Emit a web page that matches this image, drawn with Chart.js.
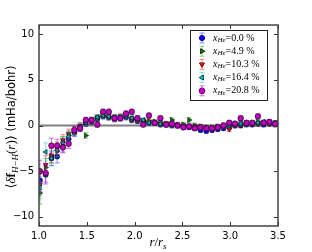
<!DOCTYPE html>
<html>
<head>
<meta charset="utf-8">
<script src="https://cdn.jsdelivr.net/npm/chart.js@4/dist/chart.umd.min.js"></script>
<style>
  html, body { margin: 0; padding: 0; background: #fff; }
  #wrap { width: 312px; height: 252px; }
</style>
</head>
<body>
<div id="wrap"><canvas id="forceChart" width="312" height="252"></canvas></div>
<script>
// r / r_s grid shared by all series
const rValues = [1.01, 1.07, 1.13, 1.19, 1.25, 1.31, 1.37, 1.43, 1.49, 1.55, 1.61, 1.67, 1.73, 1.79,
    1.85, 1.91, 1.97, 2.03, 2.09, 2.15, 2.21, 2.27, 2.33, 2.39, 2.45, 2.51, 2.57, 2.63,
    2.69, 2.75, 2.81, 2.87, 2.93, 2.99, 3.05, 3.11, 3.17, 3.23, 3.29, 3.35, 3.41, 3.47];

// <delta f_H-H(r)> in mHa/bohr, one list per helium fraction
const force0 = [-6.0, -5.4, -3.6, -3.4, -2.3, -1.5, -0.8, -0.3, 0.2, 0.4, 0.7, 1.0, 0.9, 0.7,
    0.8, 0.9, 0.6, 0.5, 0.4, 0.3, 0.3, 0.1, 0.1, 0.0, 0.0, -0.1, -0.2, -0.3,
    -0.5, -0.6, -0.5, -0.4, -0.3, -0.2, 0.0, 0.0, 0.1, 0.1, 0.2, 0.1, 0.2, 0.1];
const force49 = [-7.4, -4.6, -3.3, -2.8, -1.8, -1.1, -0.7, -0.2, -1.1, 0.5, 0.8, 1.1, 1.0, 0.9,
    0.9, 1.1, 0.7, 0.6, 0.5, 0.5, 0.4, 0.3, 0.2, 0.6, 0.1, 0.1, 0.6, 0.0,
    -0.1, -0.2, -0.2, -0.1, 0.0, 0.1, 0.1, 0.2, 0.3, 0.2, 0.4, 0.3, 0.3, 0.3];
const force103 = [-6.5, -4.3, -3.3, -2.5, -1.6, -0.9, -0.5, 0.0, 0.3, 0.5, 0.9, 1.2, 0.9, 0.8,
    1.0, 1.1, 0.7, 0.6, 0.5, 0.4, 0.3, 0.2, 0.2, 0.1, 0.0, 0.0, -0.1, -0.1,
    -0.2, -0.3, -0.3, -0.2, -0.1, -0.4, 0.0, 0.1, 0.2, 0.2, 0.2, 0.3, 0.2, 0.2];
const force164 = [-6.8, -2.9, -3.6, -2.7, -1.9, -1.2, -0.6, -0.1, 0.3, 0.6, 0.9, 1.1, 1.0, 0.9,
    0.9, 1.0, 0.8, 0.7, 0.6, 0.3, 0.3, 0.2, 0.1, 0.0, 0.0, -0.1, -0.1, -0.2,
    -0.2, -0.3, -0.3, -0.2, -0.1, 0.0, 0.1, 0.2, 0.2, 0.3, 0.3, 0.4, 0.3, 0.3];
const force208 = [-5.0, -5.2, -2.2, -2.2, -2.4, -2.0, -0.5, -0.3, 0.6, 0.6, 0.1, 1.5, 1.5, 0.8,
    0.8, 1.3, 1.5, 0.8, 0.1, 1.1, 0.3, 0.8, 0.1, 0.2, 0.0, -0.2, -0.1, -0.3,
    -0.2, -0.3, -0.3, -0.2, 0.0, 0.3, 0.2, 0.8, 0.3, 0.3, 1.0, 0.3, 0.4, 0.2];

// error bar half-widths
const errValues = [1.2, 1.0, 0.8, 0.7, 0.6, 0.5, 0.4, 0.35, 0.3, 0.3, 0.3, 0.3, 0.3, 0.3,
    0.3, 0.3, 0.3, 0.3, 0.25, 0.25, 0.25, 0.25, 0.25, 0.25, 0.25, 0.25, 0.25, 0.25,
    0.25, 0.25, 0.25, 0.25, 0.25, 0.25, 0.25, 0.25, 0.25, 0.25, 0.25, 0.25, 0.25, 0.25];

const heFractions = ['0.0', '4.9', '10.3', '16.4', '20.8'];
const xTicks = [1.0, 1.5, 2.0, 2.5, 3.0, 3.5];
const yTicks = [-10, -5, 0, 5, 10];

const seriesValues = [force0, force49, force103, force164, force208];
const colors = ['#0000ff', '#007f00', '#ff0000', '#00bfbf', '#bf00bf'];
const errColors = ['rgba(0,0,255,0.45)', 'rgba(0,127,0,0.45)', 'rgba(255,0,0,0.45)', 'rgba(0,191,191,0.45)', 'rgba(191,0,191,0.55)'];
const pointStyles = ['circle', 'triangle', 'triangle', 'triangle', 'circle'];
const rotations = [0, 90, 180, 270, 0];
const radii = [2.5, 2.8, 2.8, 2.8, 2.8];

const datasets = seriesValues.map((vals, k) => ({
    label: heFractions[k],
    data: rValues.map((r, i) => ({ x: r, y: vals[i] })),
    errs: errValues,
    errColor: errColors[k],
    backgroundColor: colors[k],
    borderColor: '#000',
    borderWidth: 0.6,
    pointStyle: pointStyles[k],
    rotation: rotations[k],
    pointRadius: radii[k],
    pointHoverRadius: radii[k],
    showLine: false,
    order: 5 - k,
}));

function richWidth(ctx, parts) {
    let w = 0;
    parts.forEach(p => { ctx.font = p.f; w += ctx.measureText(p.t).width; });
    return w;
}

function drawRich(ctx, parts, x, y) {
    let cx = x;
    parts.forEach(p => {
        ctx.font = p.f;
        ctx.fillText(p.t, cx, y + (p.dy || 0));
        cx += ctx.measureText(p.t).width;
    });
}

const errorBars = {
    id: 'errorBars',
    beforeDatasetsDraw(chart) {
        const { ctx, chartArea: a, scales: { y } } = chart;
        const y0 = y.getPixelForValue(0);
        ctx.save();
        ctx.strokeStyle = '#808080';
        ctx.lineWidth = 2;
        ctx.beginPath();
        ctx.moveTo(a.left, y0);
        ctx.lineTo(a.right, y0);
        ctx.stroke();
        ctx.restore();
    },
    beforeDatasetDraw(chart, args) {
        const ds = chart.data.datasets[args.index];
        const { ctx, chartArea: a, scales: { x, y } } = chart;
        ctx.save();
        ctx.beginPath();
        ctx.rect(a.left, a.top, a.right - a.left, a.bottom - a.top);
        ctx.clip();
        ctx.strokeStyle = ds.errColor;
        ctx.lineWidth = 1;
        ds.data.forEach((p, i) => {
            const px = x.getPixelForValue(p.x);
            const top = y.getPixelForValue(p.y + ds.errs[i]);
            const bot = y.getPixelForValue(p.y - ds.errs[i]);
            ctx.beginPath();
            ctx.moveTo(px, top);
            ctx.lineTo(px, bot);
            ctx.moveTo(px - 2.5, top);
            ctx.lineTo(px + 2.5, top);
            ctx.moveTo(px - 2.5, bot);
            ctx.lineTo(px + 2.5, bot);
            ctx.stroke();
        });
        ctx.restore();
    },
};

const frameAndLabels = {
    id: 'frameAndLabels',
    afterDraw(chart) {
        const { ctx, chartArea: a, scales: { x, y } } = chart;
        ctx.save();
        // inward ticks on all four sides
        ctx.strokeStyle = '#333';
        ctx.lineWidth = 1;
        ctx.beginPath();
        xTicks.forEach(v => {
            const px = Math.round(x.getPixelForValue(v)) + 0.5;
            ctx.moveTo(px, a.bottom); ctx.lineTo(px, a.bottom - 4);
            ctx.moveTo(px, a.top); ctx.lineTo(px, a.top + 4);
        });
        yTicks.forEach(v => {
            const py = Math.round(y.getPixelForValue(v)) + 0.5;
            ctx.moveTo(a.left, py); ctx.lineTo(a.left + 4, py);
            ctx.moveTo(a.right, py); ctx.lineTo(a.right - 4, py);
        });
        ctx.stroke();
        // frame
        ctx.strokeStyle = '#444';
        ctx.lineWidth = 1.5;
        ctx.strokeRect(a.left, a.top, a.right - a.left, a.bottom - a.top);

        // legend
        const lx = 190.5, ly = 30.5, lw = 77, lh = 70;
        ctx.fillStyle = '#fff';
        ctx.fillRect(lx, ly, lw, lh);
        ctx.strokeStyle = '#222';
        ctx.lineWidth = 1;
        ctx.strokeRect(lx, ly, lw, lh);
        heFractions.forEach((f, k) => {
            const my = 38 + k * 13.2;
            const mx = 202;
            ctx.strokeStyle = errColors[k];
            ctx.beginPath();
            ctx.moveTo(mx, my - 5); ctx.lineTo(mx, my + 5);
            ctx.moveTo(mx - 2.5, my - 5); ctx.lineTo(mx + 2.5, my - 5);
            ctx.moveTo(mx - 2.5, my + 5); ctx.lineTo(mx + 2.5, my + 5);
            ctx.stroke();
            ctx.fillStyle = colors[k];
            ctx.strokeStyle = '#000';
            Chart.helpers.drawPoint(ctx, {
                pointStyle: pointStyles[k], rotation: rotations[k],
                radius: radii[k], borderWidth: 0.6,
            }, mx, my);
            ctx.fill();
            ctx.fillStyle = '#000';
            ctx.textBaseline = 'middle';
            ctx.textAlign = 'left';
            drawRich(ctx, [
                { t: 'x', f: 'italic 10px "Liberation Serif"' },
                { t: 'He', f: 'italic 7px "Liberation Serif"', dy: 2 },
                { t: '=' + f + ' %', f: '10px "Liberation Serif"' },
            ], 213, my);
        });

        // x axis title
        ctx.fillStyle = '#000';
        ctx.textBaseline = 'alphabetic';
        const xt = [
            { t: 'r', f: 'italic 13px "Liberation Serif"' },
            { t: '/', f: '13px "Liberation Serif"' },
            { t: 'r', f: 'italic 13px "Liberation Serif"' },
            { t: 's', f: 'italic 9px "Liberation Serif"', dy: 2.5 },
        ];
        drawRich(ctx, xt, 158 - richWidth(ctx, xt) / 2, 246);

        // y axis title
        const yt = [
            { t: '\u27e8', f: '13px "DejaVu Sans"' },
            { t: '\u03b4', f: 'italic 13px "Liberation Serif"' },
            { t: 'f', f: 'bold 13px "Liberation Serif"' },
            { t: 'H\u2212H', f: 'italic 9px "Liberation Serif"', dy: 3 },
            { t: '(', f: '13px "Liberation Serif"' },
            { t: 'r', f: 'italic 13px "Liberation Serif"' },
            { t: ')', f: '13px "Liberation Serif"' },
            { t: '\u27e9', f: '13px "DejaVu Sans"' },
            { t: ' (mHa/bohr)', f: '11.5px "DejaVu Sans"' },
        ];
        ctx.translate(15, 127);
        ctx.rotate(-Math.PI / 2);
        drawRich(ctx, yt, -richWidth(ctx, yt) / 2, 0);
        ctx.restore();
    },
};

const canvas = document.getElementById('forceChart');

new Chart(canvas, {
    type: 'scatter',
    data: { datasets },
    options: {
        responsive: false,
        animation: false,
        devicePixelRatio: 1,
        layout: { padding: { top: 25, right: 34, left: 0, bottom: 0 } },
        plugins: {
            legend: { display: false },
            tooltip: { enabled: false },
        },
        scales: {
            x: {
                type: 'linear',
                min: 1.0,
                max: 3.5,
                afterBuildTicks: axis => { axis.ticks = xTicks.map(v => ({ value: v })); },
                afterFit: axis => { axis.height = 26; },
                grid: { display: false, drawTicks: false },
                border: { display: false },
                ticks: {
                    padding: 4,
                    color: '#000',
                    font: { family: 'DejaVu Sans', size: 10 },
                    callback: v => Number(v).toFixed(1),
                },
            },
            y: {
                type: 'linear',
                min: -11,
                max: 11,
                afterBuildTicks: axis => { axis.ticks = yTicks.map(v => ({ value: v })); },
                afterFit: axis => { axis.width = 39; },
                grid: { display: false, drawTicks: false },
                border: { display: false },
                ticks: {
                    padding: 5,
                    color: '#000',
                    font: { family: 'DejaVu Sans', size: 10 },
                    callback: v => (v < 0 ? '\u2212' + Math.abs(v) : String(v)),
                },
            },
        },
    },
    plugins: [errorBars, frameAndLabels],
});
</script>
</body>
</html>
